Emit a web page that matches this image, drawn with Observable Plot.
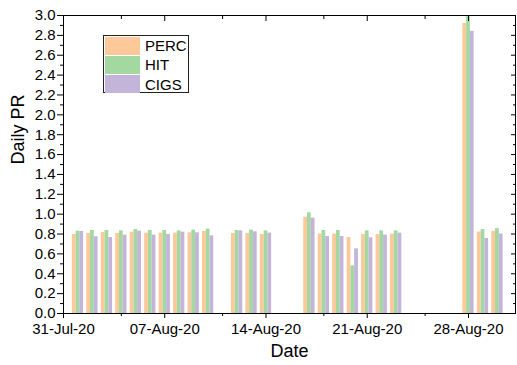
<!DOCTYPE html>
<html>
<head>
<meta charset="utf-8">
<script src="https://cdn.jsdelivr.net/npm/d3@7"></script>
<script src="https://cdn.jsdelivr.net/npm/@observablehq/plot@0.6"></script>
<style>
  html, body { margin: 0; padding: 0; background: #fff; }
  #wrap { position: relative; width: 517px; height: 365px; font-family: "Liberation Sans", Arial, sans-serif; }
  #legend { position: absolute; left: 103px; top: 35px; width: 86px; height: 58px; border: 1px solid #222; background: #fff; box-sizing: border-box; padding: 1px; }
  .row { display: flex; align-items: center; height: 17.6px; margin-bottom: 1.6px; }
  .sw { width: 35px; height: 17.6px; margin-right: 5px; }
  .lab { font-size: 15px; line-height: 15px; color: #000; }
</style>
</head>
<body>
<div id="wrap"></div>
<script>
const dates = ["2020-08-01","2020-08-02","2020-08-03","2020-08-04","2020-08-05","2020-08-06","2020-08-07","2020-08-08","2020-08-09","2020-08-10",
               "2020-08-12","2020-08-13","2020-08-14",
               "2020-08-17","2020-08-18","2020-08-19","2020-08-20","2020-08-21","2020-08-22","2020-08-23",
               "2020-08-28","2020-08-29","2020-08-30"];
const perc = [0.795,0.806,0.816,0.806,0.819,0.809,0.809,0.809,0.812,0.826,
              0.806,0.806,0.795,
              0.970,0.799,0.799,0.765,0.795,0.795,0.799,
              2.92,0.82,0.826];
const hit  = [0.829,0.836,0.836,0.832,0.846,0.836,0.836,0.832,0.839,0.849,
              0.836,0.839,0.832,
              1.014,0.836,0.836,0.480,0.832,0.832,0.832,
              3.0,0.845,0.855];
const cigs = [0.826,0.772,0.765,0.789,0.829,0.789,0.796,0.819,0.812,0.782,
              0.832,0.822,0.809,
              0.960,0.775,0.775,0.651,0.762,0.789,0.809,
              2.84,0.755,0.80];
const series = ["PERC","HIT","CIGS"];
const colors = ["#FDC99A","#A3D9A1","#C3B4D9"];
const xTicks = ["2020-07-31","2020-08-07","2020-08-14","2020-08-21","2020-08-28"];
const xMinorTicks = ["2020-08-04","2020-08-11","2020-08-18","2020-08-25"];
const yTicks = [0,0.2,0.4,0.6,0.8,1.0,1.2,1.4,1.6,1.8,2.0,2.2,2.4,2.6,2.8,3.0];
const yMinorTicks = [0.1,0.3,0.5,0.7,0.9,1.1,1.3,1.5,1.7,1.9,2.1,2.3,2.5,2.7,2.9];

const DAY = 864e5;
const vals = [perc, hit, cigs];
const table = dates.flatMap((d, i) => series.map((s, j) => ({date: new Date(d + "T00:00Z"), series: s, j, value: vals[j][i]})));
const xt = xTicks.map(d => new Date(d + "T00:00Z"));
const xm = xMinorTicks.map(d => new Date(d + "T00:00Z"));
const blank = () => "";

const chart = Plot.plot({
  width: 517, height: 365,
  marginLeft: 63, marginRight: 2, marginTop: 15, marginBottom: 52,
  style: {fontFamily: "'Liberation Sans', Arial, sans-serif", fontSize: "15px", color: "#000", background: "#fff", overflow: "visible"},
  x: {type: "utc", domain: [new Date("2020-07-31T00:00Z"), new Date("2020-08-31T06:00Z")], label: null},
  y: {domain: [0, 3], label: null},
  color: {domain: series, range: colors},
  marks: [
    Plot.rectY(table, {
      x1: d => new Date(+d.date + (d.j * 0.26 - 0.39) * DAY),
      x2: d => new Date(+d.date + (d.j * 0.26 - 0.13) * DAY),
      y1: 0, y2: "value", fill: "series", clip: true
    }),
    Plot.frame({stroke: "#000", strokeWidth: 1}),
    Plot.axisY({ticks: yTicks, tickFormat: d => d.toFixed(1), tickSize: 6, tickPadding: 2, fontSize: 15, label: null}),
    Plot.axisY({ticks: yMinorTicks, tickFormat: blank, tickSize: 3, label: null}),
    Plot.axisY({anchor: "right", ticks: yTicks, tickFormat: blank, tickSize: 5, insetRight: 5, label: null}),
    Plot.axisY({anchor: "right", ticks: yMinorTicks, tickFormat: blank, tickSize: 3, insetRight: 3, label: null}),
    Plot.axisX({ticks: xt, tickFormat: d3.utcFormat("%d-%b-%y"), tickSize: 5, tickPadding: 5, fontSize: 15, label: null}),
    Plot.axisX({ticks: xm, tickFormat: blank, tickSize: 3, label: null}),
    Plot.axisX({anchor: "top", ticks: xt, tickFormat: blank, tickSize: 5, insetTop: 5, label: null}),
    Plot.axisX({anchor: "top", ticks: xm, tickFormat: blank, tickSize: 3, insetTop: 3, label: null}),
    Plot.text(["Daily PR"], {frameAnchor: "left", dx: -45, rotate: -90, fontSize: 18, fill: "#000"}),
    Plot.text(["Date"], {frameAnchor: "bottom", dy: 43, fontSize: 18, fill: "#000"})
  ]
});
const wrap = document.getElementById("wrap");
wrap.appendChild(chart);

const legend = document.createElement("div");
legend.id = "legend";
series.forEach((s, i) => {
  const row = document.createElement("div");
  row.className = "row";
  const sw = document.createElement("div");
  sw.className = "sw";
  sw.style.background = colors[i];
  const lab = document.createElement("span");
  lab.className = "lab";
  lab.textContent = s;
  row.appendChild(sw); row.appendChild(lab);
  legend.appendChild(row);
});
wrap.appendChild(legend);
</script>
</body>
</html>
